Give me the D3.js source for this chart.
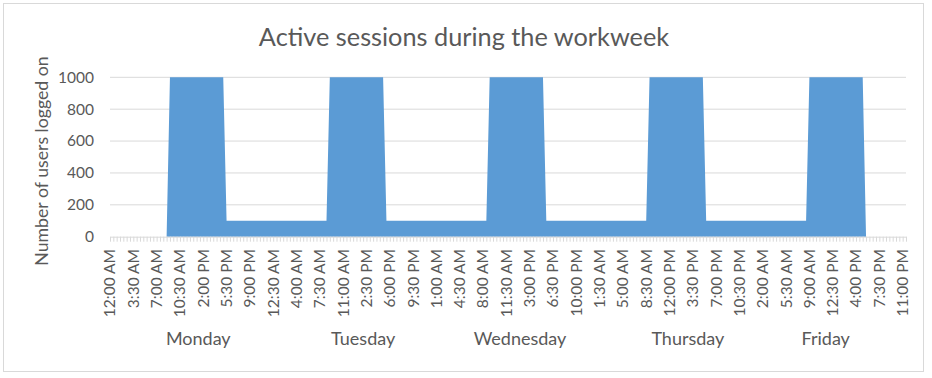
<!DOCTYPE html>
<html><head><meta charset="utf-8">
<script src="https://cdn.jsdelivr.net/npm/d3@7"></script>
<style>
body{margin:0;background:#fff}
text{font-family:Lato,"Open Sans",sans-serif;fill:#595959}
</style>
</head><body>
<svg id="c" width="932" height="378"></svg>
<script>
const chartTitle = "Active sessions during the workweek";
const yAxisTitle = "Number of users logged on";
const days = ["Monday", "Tuesday", "Wednesday", "Thursday", "Friday"];
const slots = [
  "12:00 AM","12:30 AM","1:00 AM","1:30 AM","2:00 AM","2:30 AM",
  "3:00 AM","3:30 AM","4:00 AM","4:30 AM","5:00 AM","5:30 AM",
  "6:00 AM","6:30 AM","7:00 AM","7:30 AM","8:00 AM","8:30 AM",
  "9:00 AM","9:30 AM","10:00 AM","10:30 AM","11:00 AM","11:30 AM",
  "12:00 PM","12:30 PM","1:00 PM","1:30 PM","2:00 PM","2:30 PM",
  "3:00 PM","3:30 PM","4:00 PM","4:30 PM","5:00 PM","5:30 PM",
  "6:00 PM","6:30 PM","7:00 PM","7:30 PM","8:00 PM","8:30 PM",
  "9:00 PM","9:30 PM","10:00 PM","10:30 PM","11:00 PM","11:30 PM"
];
const mondayUsers = [
  0,0,0,0,0,0, 0,0,0,0,0,0, 0,0,0,0,0,0,
  1000,1000,1000,1000,1000,1000, 1000,1000,1000,1000,1000,1000, 1000,1000,1000,1000,1000,100,
  100,100,100,100,100,100, 100,100,100,100,100,100
];
const tuesdayUsers = [
  100,100,100,100,100,100, 100,100,100,100,100,100, 100,100,100,100,100,100,
  1000,1000,1000,1000,1000,1000, 1000,1000,1000,1000,1000,1000, 1000,1000,1000,1000,1000,100,
  100,100,100,100,100,100, 100,100,100,100,100,100
];
const wednesdayUsers = [
  100,100,100,100,100,100, 100,100,100,100,100,100, 100,100,100,100,100,100,
  1000,1000,1000,1000,1000,1000, 1000,1000,1000,1000,1000,1000, 1000,1000,1000,1000,1000,100,
  100,100,100,100,100,100, 100,100,100,100,100,100
];
const thursdayUsers = [
  100,100,100,100,100,100, 100,100,100,100,100,100, 100,100,100,100,100,100,
  1000,1000,1000,1000,1000,1000, 1000,1000,1000,1000,1000,1000, 1000,1000,1000,1000,1000,100,
  100,100,100,100,100,100, 100,100,100,100,100,100
];
const fridayUsers = [
  100,100,100,100,100,100, 100,100,100,100,100,100, 100,100,100,100,100,100,
  1000,1000,1000,1000,1000,1000, 1000,1000,1000,1000,1000,1000, 1000,1000,1000,1000,1000,0,
  0,0,0,0,0,0, 0,0,0,0,0,0
];
const yTicks = [0, 200, 400, 600, 800, 1000];
const labelInterval = 7;

const userSeries = [mondayUsers, tuesdayUsers, wednesdayUsers, thursdayUsers, fridayUsers];
const points = [];
days.forEach((d, di) => slots.forEach((s, si) => points.push({key: d + "|" + s, day: d, time: s, v: userSeries[di][si]})));
const categories = points.map(p => p.key);

const svg = d3.select("#c");
const plotLeft = 110, plotRight = 906, plotTop = 77.3, plotBottom = 236.7;

svg.append("rect").attr("x", 3.5).attr("y", 3.5).attr("width", 920).attr("height", 368)
  .attr("fill", "#fff").attr("stroke", "#D9D9D9");

const x = d3.scalePoint().domain(categories).range([plotLeft, plotRight]);
const y = d3.scaleLinear().domain([0, 1000]).range([plotBottom, plotTop]);

// gridlines
svg.append("g").selectAll("line").data(yTicks.filter(t => t > 0)).join("line")
  .attr("x1", plotLeft).attr("x2", plotRight)
  .attr("y1", d => y(d)).attr("y2", d => y(d))
  .attr("stroke", "#D9D9D9").attr("stroke-width", 1);

// area
const area = d3.area().x(d => x(d.key)).y0(y(0)).y1(d => y(d.v));
svg.append("path").datum(points).attr("d", area).attr("fill", "#5B9BD5");

// x axis with per-category ticks
const xAxis = svg.append("g").attr("transform", `translate(0,${plotBottom})`)
  .call(d3.axisBottom(x).tickValues(categories).tickSize(5).tickSizeOuter(0).tickFormat(""));
xAxis.select(".domain").attr("stroke", "#D9D9D9");
xAxis.selectAll(".tick line").attr("stroke", "#D9D9D9");

// y labels
svg.append("g").selectAll("text").data(yTicks).join("text")
  .attr("x", 94).attr("y", d => y(d)).attr("dy", "0.35em")
  .attr("text-anchor", "end").attr("font-size", 15.5).text(d => d);

// x time labels
const shown = points.filter((p, i) => i % labelInterval === 0);
svg.append("g").selectAll("text").data(shown).join("text")
  .attr("transform", d => `translate(${x(d.key)},249) rotate(-90)`)
  .attr("dy", "0.35em").attr("text-anchor", "end").attr("font-size", 15.5)
  .text(d => d.time);

// day labels
const dayNudge = [10, 15, 12, 20, -2];
svg.append("g").selectAll("text").data(days).join("text")
  .attr("x", (d, i) => (x(d + "|" + slots[0]) + x(d + "|" + slots[slots.length - 1])) / 2 + dayNudge[i])
  .attr("y", 345).attr("text-anchor", "middle").attr("font-size", 18)
  .text(d => d);

// titles
svg.append("text").attr("x", 464).attr("y", 46).attr("text-anchor", "middle")
  .attr("font-size", 25.3).text(chartTitle);
svg.append("text").attr("transform", "translate(42,161) rotate(-90)")
  .attr("dy", "0.35em").attr("text-anchor", "middle").attr("font-size", 17.7).text(yAxisTitle);
</script>
</body></html>
